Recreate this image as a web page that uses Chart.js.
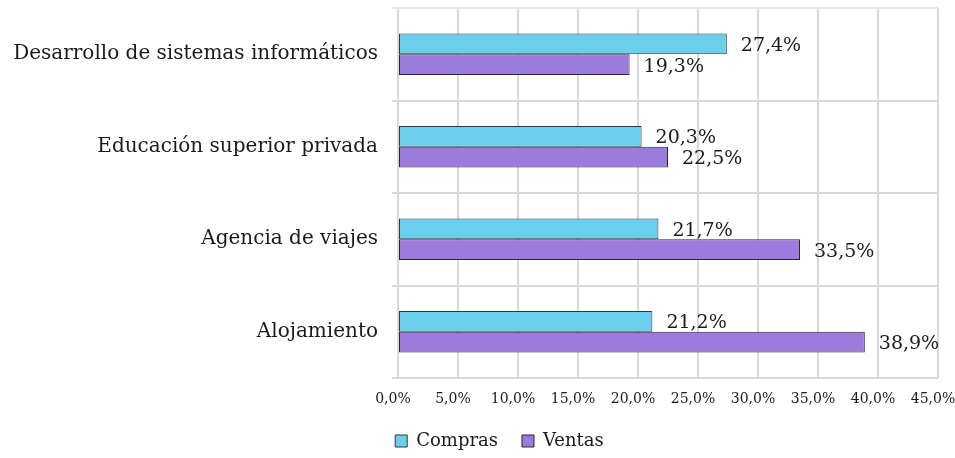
<!DOCTYPE html>
<html>
<head>
<meta charset="utf-8">
<script src="https://cdn.jsdelivr.net/npm/chart.js@4/dist/chart.umd.min.js"></script>
<style>
    html, body { margin: 0; padding: 0; background: #fff; overflow: hidden; }
    #wrap { width: 955px; height: 458px; position: relative; }
</style>
</head>
<body>
<div id="wrap"><canvas id="chart"></canvas></div>
<script>
// Datos
const categorias = [
    'Desarrollo de sistemas informáticos',
    'Educación superior privada',
    'Agencia de viajes',
    'Alojamiento'
];
const compras = [27.4, 20.3, 21.7, 21.2];
const ventas = [19.3, 22.5, 33.5, 38.9];
const ticksX = [0, 5, 10, 15, 20, 25, 30, 35, 40, 45];

const FONT = "'DejaVu Serif', serif";
const fmt = v => v.toFixed(1).replace('.', ',') + '%';

// Etiquetas de valor al final de cada barra
const valueLabels = {
    id: 'valueLabels',
    afterDatasetsDraw(chart) {
        const ctx = chart.ctx;
        ctx.save();
        ctx.font = '19px ' + FONT;
        ctx.fillStyle = '#1a1a1a';
        ctx.textAlign = 'left';
        ctx.textBaseline = 'middle';
        chart.data.datasets.forEach((ds, i) => {
            chart.getDatasetMeta(i).data.forEach((bar, j) => {
                ctx.fillText(fmt(ds.data[j]), bar.x + 14, bar.y + 2);
            });
        });
        ctx.restore();
    }
};

// Leyenda un poco desplazada, como en el original
const legendShift = {
    id: 'legendShift',
    afterLayout(chart) {
        const lg = chart.legend;
        if (lg) {
            lg.left += 22;
            lg.right += 22;
            lg.top += 2;
            lg.bottom += 2;
        }
    }
};

new Chart(document.getElementById('chart'), {
    type: 'bar',
    data: {
        labels: categorias,
        datasets: [
            {
                label: 'Compras',
                data: compras,
                backgroundColor: '#69cfeb',
                borderColor: '#2b3a40',
                borderWidth: 1,
                borderSkipped: false
            },
            {
                label: 'Ventas',
                data: ventas,
                backgroundColor: '#9b7bdb',
                borderColor: '#2a2533',
                borderWidth: 1,
                borderSkipped: false
            }
        ]
    },
    options: {
        indexAxis: 'y',
        responsive: true,
        maintainAspectRatio: false,
        animation: false,
        categoryPercentage: 0.45,
        barPercentage: 1,
        layout: { padding: { top: 8, left: 0, right: 0, bottom: 0 } },
        plugins: {
            tooltip: { enabled: false },
            legend: {
                position: 'bottom',
                labels: {
                    font: { family: FONT, size: 18 },
                    color: '#1a1a1a',
                    boxWidth: 12,
                    boxHeight: 12,
                    padding: 24,
                    useBorderRadius: false
                }
            }
        },
        scales: {
            x: {
                min: 0,
                max: 45,
                afterBuildTicks: axis => { axis.ticks = ticksX.map(v => ({ value: v })); },
                ticks: {
                    font: { family: FONT, size: 14 },
                    color: '#1a1a1a',
                    padding: 13,
                    labelOffset: -5,
                    maxRotation: 0,
                    callback: v => fmt(v)
                },
                grid: {
                    color: '#d9d9d9',
                    lineWidth: 2,
                    drawTicks: false
                },
                border: { display: false },
                afterFit: axis => {
                    axis.height = 28;
                    axis.paddingLeft = 0;
                    axis.paddingRight = 17;
                }
            },
            y: {
                ticks: {
                    font: { family: FONT, size: 20 },
                    color: '#1a1a1a',
                    padding: 14
                },
                grid: {
                    offset: true,
                    color: ctx => ctx.index === 0 ? '#e8e8e8' : '#d9d9d9',
                    lineWidth: 2,
                    tickLength: 6
                },
                border: { display: false },
                afterFit: axis => {
                    axis.width = 398;
                    axis.paddingTop = 0;
                    axis.paddingBottom = 0;
                }
            }
        }
    },
    plugins: [valueLabels, legendShift]
});
</script>
</body>
</html>
